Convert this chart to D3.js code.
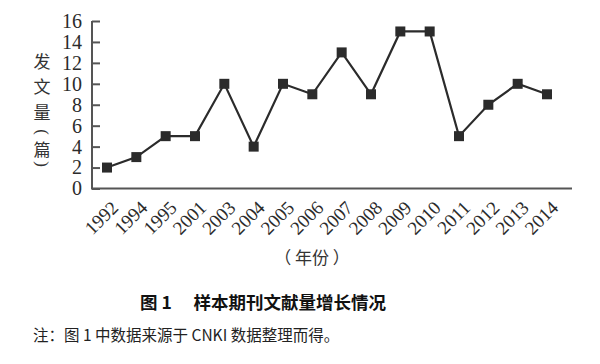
<!DOCTYPE html>
<html>
<head>
<meta charset="utf-8">
<script src="https://cdn.jsdelivr.net/npm/d3@7"></script>
<style>
  body { margin: 0; background: #fff; }
  svg { display: block; }
</style>
</head>
<body>
<div id="chart"></div>
<script>
// data
var years = ["1992", "1994", "1995", "2001", "2003", "2004", "2005", "2006",
  "2007", "2008", "2009", "2010", "2011", "2012", "2013", "2014"];
var counts = [2, 3, 5, 5, 10, 4, 10, 9, 13, 9, 15, 15, 5, 8, 10, 9];
var yTicks = [0, 2, 4, 6, 8, 10, 12, 14, 16];

var svgWidth = 600;
var svgHeight = 364;
var serif = "'Liberation Serif', 'Times New Roman', serif";
var cjk = "'Noto Sans CJK SC', sans-serif";
var ink = "#2b2b2b";

var svg = d3.select("#chart")
  .append("svg")
  .attr("width", svgWidth)
  .attr("height", svgHeight);

// scales
var xScale = d3.scalePoint()
  .domain(years)
  .range([107, 547]);

var yScale = d3.scaleLinear()
  .domain([0, 16])
  .range([188.5, 21]);

// y axis
var leftAxis = d3.axisLeft(yScale)
  .tickValues(yTicks)
  .tickSize(-8)
  .tickPadding(10);

var yAxis = svg.append("g")
  .attr("transform", "translate(92,0)")
  .call(leftAxis);

yAxis.select(".domain").remove();
yAxis.selectAll("line").attr("stroke", "#555").attr("stroke-width", 2);
yAxis.selectAll("text")
  .attr("font-family", serif)
  .attr("font-size", 20)
  .attr("fill", ink);

svg.append("line")
  .attr("x1", 92).attr("x2", 92)
  .attr("y1", yScale(16)).attr("y2", yScale(0))
  .attr("stroke", "#555").attr("stroke-width", 2);

// x axis line
svg.append("line")
  .attr("x1", 91).attr("x2", 572)
  .attr("y1", yScale(0)).attr("y2", yScale(0))
  .attr("stroke", "#555").attr("stroke-width", 2);

// x tick labels, rotated
svg.append("g")
  .selectAll("text")
  .data(years)
  .enter()
  .append("text")
  .attr("transform", d => `translate(${xScale(d) + 3},${yScale(0) + 11}) rotate(-45)`)
  .attr("text-anchor", "end")
  .attr("dy", "0.7em")
  .attr("font-family", serif)
  .attr("font-size", 19)
  .attr("fill", ink)
  .text(d => d);

// line + markers
var line = d3.line()
  .x((d, i) => xScale(years[i]))
  .y(d => yScale(d));

svg.append("path")
  .datum(counts)
  .attr("d", line)
  .attr("fill", "none")
  .attr("stroke", ink)
  .attr("stroke-width", 2.2);

svg.append("g")
  .selectAll("rect")
  .data(counts)
  .enter()
  .append("rect")
  .attr("x", (d, i) => xScale(years[i]) - 5)
  .attr("y", d => yScale(d) - 5)
  .attr("width", 10)
  .attr("height", 10)
  .attr("fill", ink);

// y axis title, stacked vertically; brackets turned 90 degrees
var yLabel = ["发", "文", "量", "(", "篇", ")"];
var yLabelPos = [60, 85, 111, 132, 148, 164];
var isBracket = d => d === "(" || d === ")";
svg.append("g")
  .selectAll("text")
  .data(yLabel)
  .enter()
  .append("text")
  .attr("transform", (d, i) => `translate(42,${yLabelPos[i]})` + (isBracket(d) ? " rotate(90)" : ""))
  .attr("text-anchor", "middle")
  .attr("dominant-baseline", "central")
  .attr("font-family", d => isBracket(d) ? serif : cjk)
  .attr("font-size", 17)
  .attr("fill", "#333")
  .text(d => d);

// x axis title
svg.append("text")
  .attr("x", 312)
  .attr("y", 264)
  .attr("text-anchor", "middle")
  .attr("font-family", cjk)
  .attr("font-size", 17)
  .attr("fill", "#333")
  .text("（ 年份 ）");

// caption
svg.append("text")
  .attr("x", 263)
  .attr("y", 309)
  .attr("text-anchor", "middle")
  .attr("font-family", cjk)
  .attr("font-size", 17.5)
  .attr("font-weight", "bold")
  .attr("fill", "#111")
  .text("图 1　 样本期刊文献量增长情况");

svg.append("text")
  .attr("x", 33)
  .attr("y", 341)
  .attr("font-family", cjk)
  .attr("font-size", 15.5)
  .attr("fill", "#222")
  .text("注：图 1 中数据来源于 CNKI 数据整理而得。");
</script>
</body>
</html>
